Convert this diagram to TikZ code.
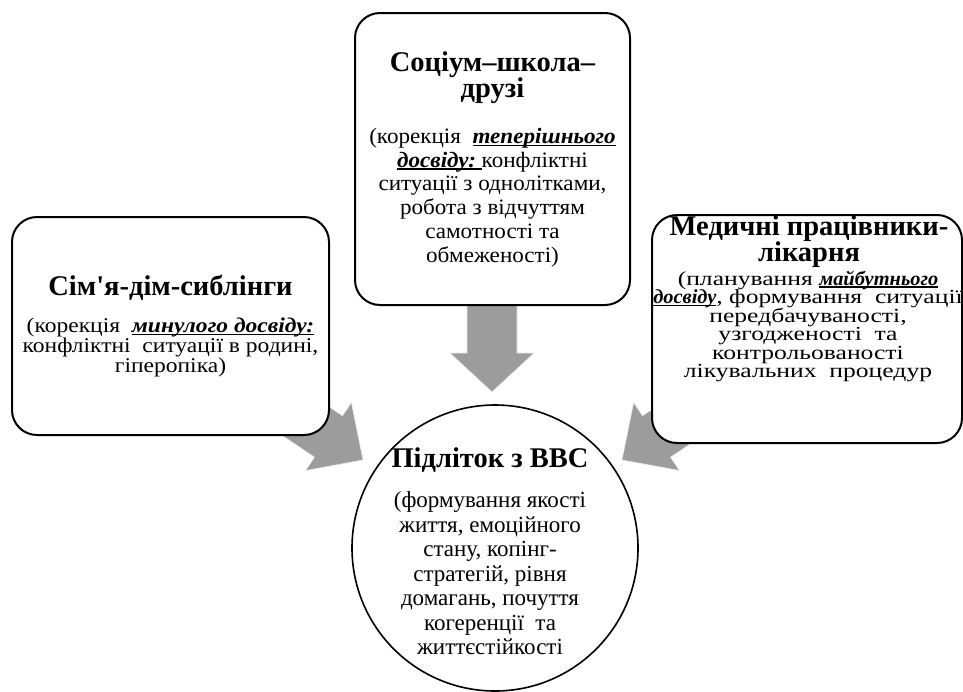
\documentclass[tikz,border=0pt]{standalone}
\usepackage{fontspec}
\setmainfont{Liberation Serif}
\newfontfamily\stretchA[FakeStretch=1.05]{Liberation Serif}
\newfontfamily\stretchB[FakeStretch=1.12]{Liberation Serif}
\newfontfamily\stretchC[FakeStretch=1.28]{Liberation Serif}
\newfontfamily\biuRfont[FakeStretch=1.02]{Liberation Serif}
\newsavebox\ulbox
\newcommand{\fixul}[1]{\sbox\ulbox{#1}\rlap{\rule[-2.6pt]{\wd\ulbox}{1.2pt}}\usebox\ulbox}
\newcommand{\biu}[1]{\fixul{\textbf{\textit{#1}}}}
\newcommand{\biuR}[1]{\fixul{\biuRfont\bfseries\itshape #1}}
\newcommand{\apos}{{\addfontfeature{Ligatures=TeXOff}'}}
\definecolor{arrowgray}{HTML}{9C9C9C}
\tikzset{
  boxshape/.style={draw=black, line width=2pt, fill=white, rounded corners=25pt, inner sep=0pt},
  txt/.style={align=center, inner sep=0pt, execute at begin node={\lineskiplimit=-60pt}},
  titletxt/.style={txt, font=\fontsize{28.5}{25.5}\selectfont\bfseries},
  rbody/.style={inner sep=0pt, anchor=base, font=\stretchC\fontsize{20}{18.4}\selectfont},
  blockarrow/.style={fill=arrowgray, draw=white!85!gray, line width=0.6pt},
}
\begin{document}
\begin{tikzpicture}[x=1pt,y=-1pt]
\useasboundingbox (0,0) rectangle (963,691);
% block arrows (behind boxes)
\coordinate (lt) at (363,460);
\draw[blockarrow] (248.2,412.5) -- (314.5,457.2) -- (305.6,470.5) -- (lt) -- (351.4,402.5) -- (342.5,415.8) -- (276.2,371) -- cycle;
\coordinate (rt) at (622,460);
\draw[blockarrow] (736.8,412.5) -- (670.5,457.2) -- (679.4,470.5) -- (rt) -- (633.6,402.5) -- (642.5,415.8) -- (708.8,371) -- cycle;
\coordinate (dt) at (492,392);
\draw[blockarrow] (467,280) -- (467,353) -- (450,353) -- (dt) -- (534,353) -- (517,353) -- (517,280) -- cycle;
% boxes
\node[boxshape, minimum width=275pt, minimum height=292pt] (top) at (492.5,159) {};
\node[boxshape, minimum width=317pt, minimum height=218pt] (left) at (170.5,326) {};
\node[boxshape, minimum width=310pt, minimum height=228pt] (right) at (807,329) {};
\node[draw=black, line width=1.6pt, fill=white, circle, minimum size=286pt, inner sep=0pt] (teen) at (495,548) {};
% texts
\node[titletxt] (toptitle) at (492.5,77.5) {Соціум–школа–\\друзі};
\node[txt, font=\stretchA\fontsize{22}{23.8}\selectfont] (topbody) at (492.5,197.5) {(корекція\ \ \biu{теперішнього}\\\biu{досвіду:\ }конфліктні\\ситуації\ з однолітками,\\робота з відчуттям\\самотності та\\обмеженості)};
\node[titletxt] (lefttitle) at (170.5,288) {Сім\apos я-дім-сиблінги};
\node[txt, font=\stretchB\fontsize{21}{19.8}\selectfont] (leftbody) at (170.5,347.5) {(корекція\ \ \biu{минулого досвіду:}\\конфліктні\ \ ситуації\ в родині,\\гіперопіка)};
\node[titletxt] (righttitle) at (809,241.5) {Медичні працівники-\\лікарня};
\node[rbody] (rb1) at (808,285) {(планування \biuR{майбутнього}};
\node[rbody] (rb2) at (808,303.5) {\biuR{досвіду}, формування\ \ ситуації};
\node[rbody] (rb3) at (808,322) {передбачуваності,};
\node[rbody] (rb4) at (808,340.5) {узгодженості\ \ та};
\node[rbody] (rb5) at (808,359) {контрольованості};
\node[rbody] (rb6) at (808,377.5) {лікувальних\ \ процедур};
\node[titletxt] (teentitle) at (490,460) {Підліток з ВВС};
\node[txt, font=\fontsize{23}{24.5}\selectfont] (teenbody) at (490,573.5) {(формування якості\\життя, емоційного\\стану, копінг-\\стратегій, рівня\\домагань, почуття\\когеренції\ \ та\\життєстійкості};
\end{tikzpicture}
\end{document}
